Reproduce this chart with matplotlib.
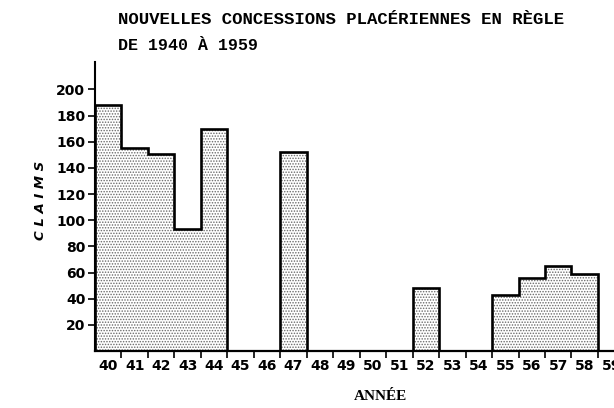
import matplotlib
matplotlib.use("Agg")
import matplotlib.pyplot as plt
import numpy as np

years = ["40", "41", "42", "43", "44", "45", "46", "47", "48", "49",
         "50", "51", "52", "53", "54", "55", "56", "57", "58", "59"]
claims = [188, 155, 151, 93, 170, 0, 0, 152, 0, 0,
          0, 0, 48, 0, 0, 43, 56, 65, 59, 0]
yticks = [20, 40, 60, 80, 100, 120, 140, 160, 180, 200]

plt.rcParams['hatch.linewidth'] = 0.7
plt.rcParams['hatch.color'] = '#6a6a6a'

fig = plt.figure(figsize=(6.14, 4.08), dpi=100)
ax = fig.add_axes([95/614, (408-351)/408, 1 - 95/614, (351-62)/408])

n = len(claims)
edges = np.arange(n + 1)
vals = np.array(claims, dtype=float)

# dotted fill
ax.bar(edges[:-1], vals, width=1.0, align='edge', facecolor='white',
       edgecolor='#6a6a6a', hatch='......', linewidth=0)
# outline
ax.stairs(vals, edges, baseline=0, fill=False, color='black', linewidth=1.9)

ax.set_xlim(0, 519/26.47)
ax.set_ylim(0, 221)

ax.spines['top'].set_visible(False)
ax.spines['right'].set_visible(False)
ax.spines['left'].set_linewidth(1.5)
ax.spines['bottom'].set_linewidth(1.6)

ax.set_yticks(yticks)
ax.set_yticklabels([str(v) for v in yticks], fontsize=10, fontweight='bold',
                   family='DejaVu Sans')
ax.tick_params(axis='y', direction='out', length=5, width=1.2, pad=2)

ax.set_xticks(edges[1:-1], minor=False)
ax.set_xticklabels([])
ax.set_xticks(edges[:-1] + 0.5, minor=True)
ax.set_xticklabels(years, minor=True, fontsize=10, fontweight='bold',
                   family='DejaVu Sans')
ax.tick_params(axis='x', which='major', direction='out', length=5, width=1.2)
ax.tick_params(axis='x', which='minor', length=0, pad=6)

fig.text(40/614, 1 - 200/408, "C L A I M S", rotation=90, ha='center', va='center',
         fontsize=9.5, fontweight='bold', fontstyle='italic', family='DejaVu Sans')
fig.text(380/614, 1 - 397/408, "ANNÉE", ha='center', va='center',
         fontsize=11, fontweight='bold', family='Liberation Serif')

fig.text(118/614, 1 - 20/408, "NOUVELLES CONCESSIONS PLACÉRIENNES EN RÈGLE",
         ha='left', va='center', fontsize=12.5, fontweight='bold',
         family='Liberation Mono')
fig.text(118/614, 1 - 45/408, "DE 1940 À 1959",
         ha='left', va='center', fontsize=12, fontweight='bold',
         family='Liberation Mono')

fig.savefig("out.png", dpi=100)
